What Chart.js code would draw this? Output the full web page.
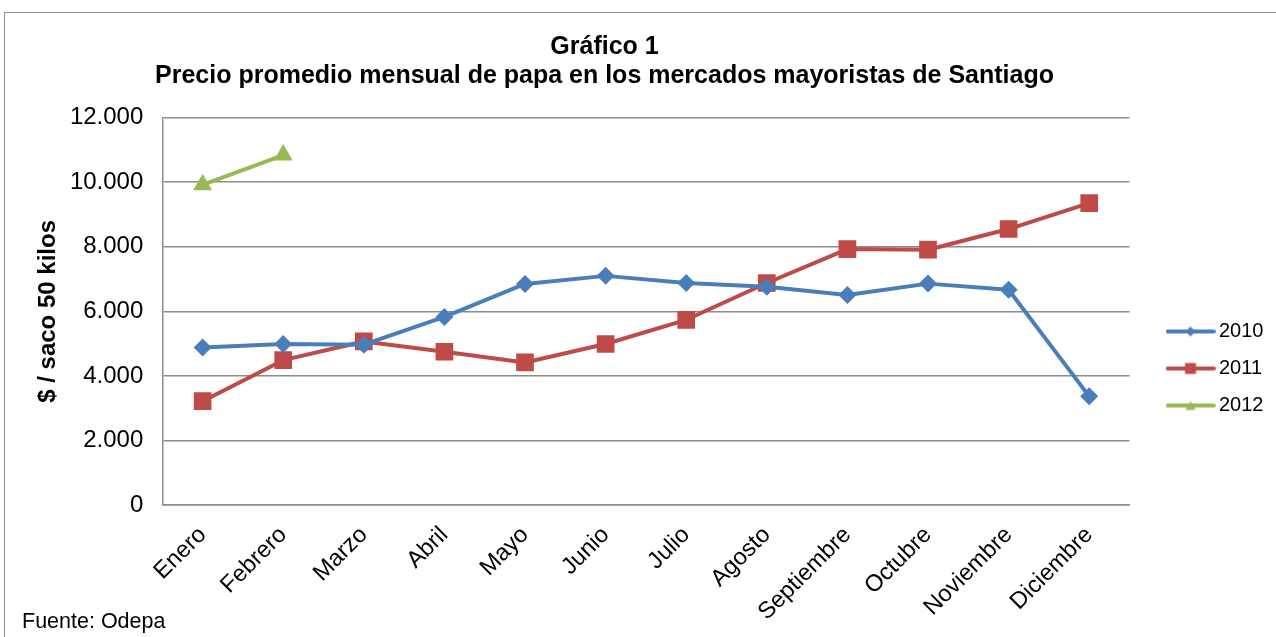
<!DOCTYPE html>
<html lang="es">
  <head>
    <meta charset="UTF-8" />
    <title>Precio promedio mensual de papa</title>
    <style>
      body { margin: 0; background: #fff; }
      #frame {
        position: absolute; left: 4px; top: 12px; width: 1300px; height: 700px;
        border-top: 1.5px solid #8c8c8c; border-left: 1.5px solid #8c8c8c;
      }
      #papaChart { position: absolute; left: 0; top: 0; }
    </style>
  </head>
  <body>
    <div id="frame"></div>
    <canvas id="papaChart" width="1276" height="637"></canvas>
    <script src="https://cdn.jsdelivr.net/npm/chart.js"></script>
    <script>
      const months = ['Enero', 'Febrero', 'Marzo', 'Abril', 'Mayo', 'Junio', 'Julio',
        'Agosto', 'Septiembre', 'Octubre', 'Noviembre', 'Diciembre'];
      const precio2010 = [4880, 4990, 4970, 5830, 6850, 7100, 6880, 6760, 6510, 6860, 6670, 3370];
      const precio2011 = [3220, 4490, 5070, 4750, 4420, 4990, 5740, 6880, 7930, 7910, 8550, 9350];
      const precio2012 = [9920, 10840];
      const yTicks = [0, 2000, 4000, 6000, 8000, 10000, 12000];

      const FONT = "'Liberation Sans', Arial, sans-serif";
      const gridGray = '#8c8c8c';

      // little "line with marker" icons for the legend, like Excel draws them
      const legendIcon = (color, style) => {
        const c = document.createElement('canvas');
        c.width = 50; c.height = 14;
        const g = c.getContext('2d');
        g.strokeStyle = color; g.fillStyle = color;
        g.lineWidth = 4; g.lineCap = 'round';
        g.beginPath(); g.moveTo(2, 7); g.lineTo(48, 7); g.stroke();
        g.beginPath();
        if (style === 'diamond') {
          g.moveTo(25, 2); g.lineTo(30, 7); g.lineTo(25, 12); g.lineTo(20, 7);
        } else if (style === 'square') {
          g.rect(19.5, 1.5, 11, 11);
        } else {
          g.moveTo(25, 2.5); g.lineTo(30, 11.5); g.lineTo(20, 11.5);
        }
        g.closePath(); g.fill();
        return c;
      };

      const datasets = [
        { label: '2010', data: precio2010, color: '#4a7ebb', pointStyle: 'rectRot', pointRadius: 9, icon: 'diamond' },
        { label: '2011', data: precio2011, color: '#be4b48', pointStyle: 'rect', pointRadius: 12.5, icon: 'square' },
        { label: '2012', data: precio2012, color: '#98b954', pointStyle: 'triangle', pointRadius: 11, icon: 'triangle' },
      ].map((d) => ({
        label: d.label,
        data: d.data,
        borderColor: d.color,
        backgroundColor: d.color,
        borderWidth: 4,
        borderJoinStyle: 'round',
        tension: 0,
        pointStyle: d.pointStyle,
        pointRadius: d.pointRadius,
        pointBorderWidth: 0,
        pointBackgroundColor: d.color,
        legendIcon: legendIcon(d.color, d.icon),
      }));

      // shift title / legend to where the original puts them,
      // and let the rotated month labels run past the axis box
      const placeBlocks = {
        id: 'placeBlocks',
        afterLayout(chart) {
          const t = chart.titleBlock;
          t.left = 0; t.right = 1209;
          const lg = chart.legend;
          lg.left = 1172 - lg.options.labels.padding;
          lg.right = lg.left + 115;
          lg.top = 0; lg.bottom = 737;
          lg.height = 737;
          chart.scales.x.bottom = 637;
        },
      };

      const chart = new Chart(document.getElementById('papaChart').getContext('2d'), {
        type: 'line',
        data: { labels: months, datasets: datasets },
        plugins: [placeBlocks],
        options: {
          responsive: false,
          animation: false,
          devicePixelRatio: 1,
          layout: { padding: { left: 22, right: 28, top: 32.5, bottom: 2 } },
          plugins: {
            tooltip: { enabled: false },
            title: {
              display: true,
              text: ['Gráfico 1', 'Precio promedio mensual de papa en los mercados mayoristas de Santiago'],
              color: '#000',
              font: { family: FONT, size: 25, weight: 'bold', lineHeight: 29 / 25 },
              padding: { top: 0, bottom: 27.1 },
            },
            subtitle: {
              display: true,
              position: 'bottom',
              align: 'start',
              text: 'Fuente: Odepa',
              color: '#000',
              font: { family: FONT, size: 21.5, weight: 'normal', lineHeight: 1.2 },
              padding: { top: 0, bottom: 0 },
            },
            legend: {
              position: 'right',
              align: 'center',
              labels: {
                color: '#000',
                font: { family: FONT, size: 20 },
                usePointStyle: true,
                pointStyleWidth: 37,
                padding: 17,
                generateLabels: (ch) =>
                  Chart.defaults.plugins.legend.labels.generateLabels(ch).map((item) => {
                    item.pointStyle = ch.data.datasets[item.datasetIndex].legendIcon;
                    return item;
                  }),
              },
            },
          },
          scales: {
            x: {
              offset: true,
              grid: { display: false, drawTicks: false },
              border: { display: true, color: gridGray, width: 1.5 },
              ticks: {
                autoSkip: false,
                minRotation: 45,
                maxRotation: 45,
                padding: 16,
                color: '#000',
                font: { family: FONT, size: 23.5 },
              },
              afterFit: (scale) => { scale.height = 104; },
            },
            y: {
              min: 0,
              max: 12000,
              afterBuildTicks: (scale) => { scale.ticks = yTicks.map((v) => ({ value: v })); },
              grid: { color: gridGray, lineWidth: 1.5, drawTicks: false },
              border: { display: true, color: gridGray, width: 1.5 },
              ticks: {
                padding: 19,
                color: '#000',
                font: { family: FONT, size: 24 },
                callback: (v) => String(v).replace(/\B(?=(\d{3})+(?!\d))/g, '.'),
              },
              title: {
                display: true,
                text: '$ / saco 50 kilos',
                color: '#000',
                font: { family: FONT, size: 24, weight: 'bold', lineHeight: 1.2 },
                padding: { top: 12, bottom: 0 },
              },
              afterFit: (scale) => { scale.width = 140.3; },
            },
          },
        },
      });
    </script>
  </body>
</html>
